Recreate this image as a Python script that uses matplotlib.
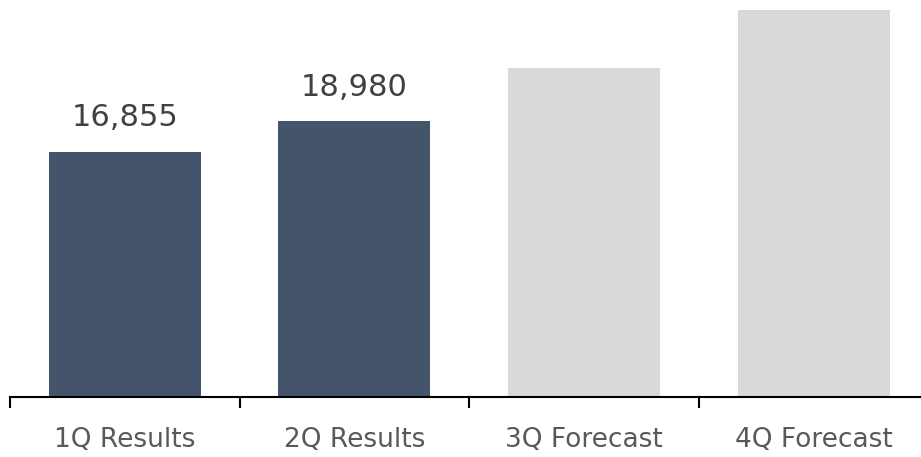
import matplotlib
matplotlib.use("Agg")
import matplotlib.pyplot as plt

categories = ["1Q Results", "2Q Results", "3Q Forecast", "4Q Forecast"]
values = [16855, 18980, 22630, 26630]
labels = ["16,855", "18,980", None, None]
colors = ["#44546A", "#44546A", "#D9D9D9", "#D9D9D9"]

fig = plt.figure(figsize=(9.21, 4.57), dpi=100)
ax = fig.add_axes([10/921, 60/457, 911/921, 397/457])
x = list(range(len(categories)))
bars = ax.bar(x, values, width=0.662, color=colors, zorder=1)
ax.set_xlim(-0.5, 3.468)
ax.set_ylim(0, 27300)
for xi, v, lab in zip(x, values, labels):
    if lab:
        ax.annotate(lab, (xi, v), xytext=(0, 14), textcoords="offset points",
                    ha="center", va="bottom", fontsize=22, color="#404040")
for s in ["top", "right", "left"]:
    ax.spines[s].set_visible(False)
ax.spines["bottom"].set_linewidth(1.5)
ax.spines["bottom"].set_color("black")
ax.set_yticks([])
ax.set_xticks([-0.5, 0.5, 1.5, 2.5])
ax.set_xticklabels([])
ax.tick_params(axis="x", length=8, width=1.5, color="black")
ax.set_xticks(x, minor=True)
ax.set_xticklabels(categories, minor=True, fontsize=19, color="#595959")
ax.tick_params(axis="x", which="minor", length=0, pad=21.5)
fig.savefig("out.png", dpi=100)
